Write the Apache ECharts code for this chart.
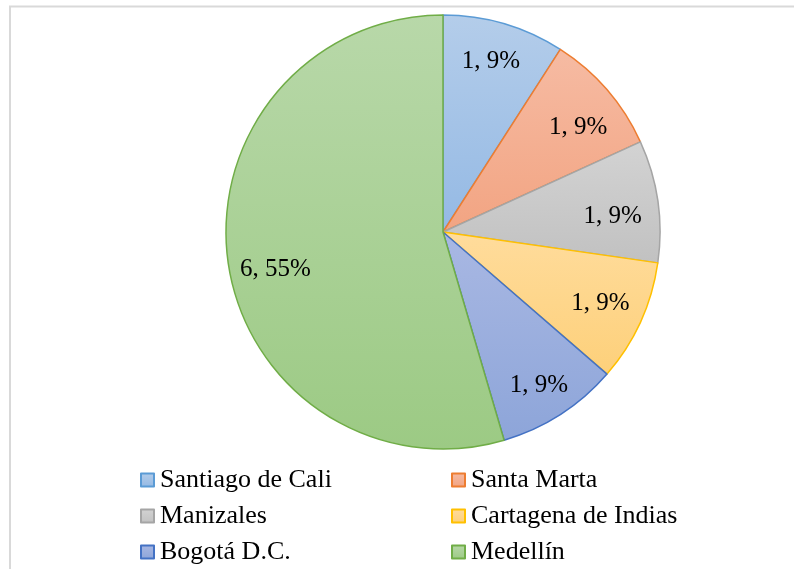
<!DOCTYPE html>
<html>
<head>
<meta charset="utf-8">
<script src="https://cdn.jsdelivr.net/npm/echarts@6/dist/echarts.min.js"></script>
<style>
html,body{margin:0;padding:0;background:#fff;}
#c{width:794px;height:569px;}
</style>
</head>
<body>
<div id="c"></div>
<script>
var categories = ['Santiago de Cali', 'Santa Marta', 'Manizales', 'Cartagena de Indias', 'Bogotá D.C.', 'Medellín'];
var values = [1, 1, 1, 1, 1, 6];

var borderColors = ['#5b9bd5', '#ed7d31', '#a5a5a5', '#ffc000', '#4472c4', '#70ad47'];
var topColors = ['#b4cdea', '#f6bba3', '#d3d3d3', '#ffdc9c', '#a9b8e3', '#b8d8a9'];
var bottomColors = ['#94b9e4', '#f2a482', '#c1c1c1', '#fdd07a', '#8da5d9', '#9cca84'];
var labelOffsets = [[-2, 0], [1, 12], [-6, 10], [-4, -2], [0, 4], [8, 12]];

function grad(i) {
  return {type: 'linear', x: 0, y: 0, x2: 0, y2: 1,
    colorStops: [{offset: 0, color: topColors[i]}, {offset: 1, color: bottomColors[i]}]};
}

var pieData = categories.map(function (n, i) {
  return {name: n, value: values[i],
    itemStyle: {color: grad(i), borderColor: borderColors[i], borderWidth: 1.5}};
});
var labelData = categories.map(function (n, i) {
  return {name: n, value: values[i], label: {offset: labelOffsets[i]}};
});

function legendItems(idx) {
  return idx.map(function (i) {
    return {name: categories[i], itemStyle: {color: grad(i), borderColor: borderColors[i], borderWidth: 2}};
  });
}

var font = "'Liberation Serif', 'Times New Roman', serif";
var legendCommon = {
  orient: 'vertical', top: 467, height: 110, padding: 0,
  itemWidth: 13, itemHeight: 13, itemGap: 10, icon: 'rect',
  selectedMode: false,
  textStyle: {fontFamily: font, fontSize: 26, lineHeight: 26, color: '#000', padding: [0, 0, 0, 1]}
};

var chart = echarts.init(document.getElementById('c'), null, {renderer: 'canvas'});
chart.setOption({
  animation: false,
  backgroundColor: '#fff',
  graphic: [{
    type: 'rect', shape: {x: 10, y: 6.5, width: 900, height: 700},
    style: {fill: 'none', stroke: '#d9d9d9', lineWidth: 2}, silent: true
  }],
  legend: [
    Object.assign({left: 140, data: legendItems([0, 2, 4])}, legendCommon),
    Object.assign({left: 451, data: legendItems([1, 3, 5])}, legendCommon)
  ],
  series: [{
    type: 'pie', center: [443, 232], radius: [0, 217], startAngle: 90, clockwise: true,
    data: pieData, label: {show: false}, labelLine: {show: false}, silent: true
  }, {
    type: 'pie', center: [443, 232], radius: [132, 217], startAngle: 90, clockwise: true,
    percentPrecision: 0, silent: true,
    itemStyle: {color: 'rgba(0,0,0,0)', borderWidth: 0},
    data: labelData,
    label: {show: true, position: 'inside', formatter: '{c}, {d}%',
      fontFamily: font, fontSize: 25, color: '#000'},
    labelLine: {show: false}
  }]
});
</script>
</body>
</html>
